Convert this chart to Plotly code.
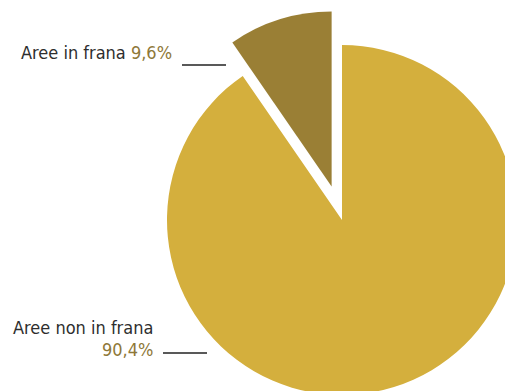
import plotly.graph_objects as go

# ---- data ----
categories = ["Aree non in frana", "Aree in frana"]
values = [90.4, 9.6]
pulls = [0.0, 0.2]
colors = ["#D4AF3D", "#9A7F35"]

# ---- layout helpers ----
W, H = 560, 440  # figure is slightly larger than the window so the pie is cropped like the original


def px(x):
    return x / W


def py(y):
    return 1 - y / H


def pct(v):
    return f"{v:.1f}".replace(".", ",") + "%"


fig = go.Figure(
    go.Pie(
        labels=categories,
        values=values,
        pull=pulls,
        sort=False,
        direction="clockwise",
        rotation=0,
        marker=dict(colors=colors, line=dict(width=0)),
        textinfo="none",
        hoverinfo="label+percent",
        showlegend=False,
        domain=dict(x=[px(132), px(552)], y=[py(430), py(10)]),
    )
)

FONT = "DejaVu Sans Condensed, Liberation Sans Narrow, Arial Narrow, Liberation Sans, Arial, sans-serif"
TXT = "#2e2e2e"
PCT = "#8E7838"

annotations = [
    dict(
        x=px(20), y=py(64), xanchor="left", yanchor="bottom",
        text=f"{categories[1]} <span style='color:{PCT}'>{pct(values[1])}</span>",
    ),
    dict(
        x=px(154), y=py(339), xanchor="right", yanchor="bottom",
        text=f"{categories[0]}",
    ),
    dict(
        x=px(154), y=py(361), xanchor="right", yanchor="bottom",
        text=f"<span style='color:{PCT}'>{pct(values[0])}</span>",
    ),
]
for a in annotations:
    a.update(xref="paper", yref="paper", showarrow=False,
             font=dict(family=FONT, size=18, color=TXT), borderpad=0)

shapes = [
    dict(type="line", xref="paper", yref="paper", x0=px(182), x1=px(226), y0=py(65), y1=py(65),
         line=dict(color="#222222", width=1.5)),
    dict(type="line", xref="paper", yref="paper", x0=px(163), x1=px(207), y0=py(353), y1=py(353),
         line=dict(color="#222222", width=1.5)),
]

fig.update_layout(
    width=W, height=H,
    margin=dict(l=0, r=0, t=0, b=0),
    paper_bgcolor="white",
    plot_bgcolor="white",
    annotations=annotations,
    shapes=shapes,
)

fig.write_html("out.html")
